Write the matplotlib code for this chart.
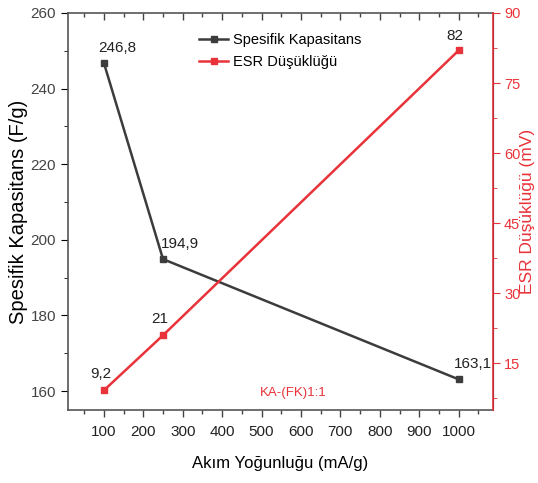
import matplotlib.pyplot as plt
from matplotlib.ticker import MultipleLocator

plt.rcParams["font.family"] = ["Liberation Sans", "DejaVu Sans"]

current = [100, 250, 1000]
capacitance = [246.8, 194.9, 163.1]
esr_drop = [9.2, 21, 82]
cap_labels = ["246,8", "194,9", "163,1"]
esr_labels = ["9,2", "21", "82"]

grey = "#3c3c3c"
red = "#e8333a"
tick_grey = "#444444"

fig = plt.figure(figsize=(5.38, 4.83), dpi=100)
ax = fig.add_axes([68 / 538, 1 - 410 / 483, 425 / 538, 397 / 483])
ax2 = ax.twinx()

l1, = ax.plot(current, capacitance, color=grey, lw=1.8, marker="s", ms=5,
              label="Spesifik Kapasitans")
l2, = ax2.plot(current, esr_drop, color=red, lw=1.8, marker="s", ms=5,
               label="ESR Düşüklüğü")

ax.set_xlim(9, 1087)
ax.set_ylim(155, 260)
ax2.set_ylim(5, 90)

ax.xaxis.set_major_locator(MultipleLocator(100))
ax.xaxis.set_minor_locator(MultipleLocator(50))
ax.yaxis.set_major_locator(MultipleLocator(20))
ax.yaxis.set_minor_locator(MultipleLocator(10))
ax2.yaxis.set_major_locator(MultipleLocator(15))
ax2.yaxis.set_minor_locator(MultipleLocator(7.5))

ax.tick_params(axis="x", which="both", direction="out", top=True, labelsize=11,
               colors=tick_grey, labelcolor="#222222", pad=6)
ax.tick_params(axis="x", which="major", length=5, width=1)
ax.tick_params(axis="x", which="minor", length=3, width=1)
ax.tick_params(axis="y", which="major", direction="out", length=5, labelsize=11,
               labelcolor=tick_grey)
ax.tick_params(axis="y", which="minor", direction="out", length=3)
ax2.tick_params(axis="y", which="major", direction="out", length=5, labelsize=10.5,
                colors=red, labelcolor=red, pad=3)
ax2.tick_params(axis="y", which="minor", direction="out", length=3, colors=red)
ax.tick_params(axis="x", which="both", top=True, labeltop=False)
# top ticks point inward
for t in ax.xaxis.get_major_ticks() + ax.xaxis.get_minor_ticks():
    t.tick2line.set_marker(3)

for s in ["left", "bottom", "top"]:
    ax.spines[s].set_color("#555555")
    ax.spines[s].set_linewidth(1.2)
ax2.spines["right"].set_color(red)
ax2.spines["right"].set_linewidth(1.2)
for s in ["left", "bottom", "top"]:
    ax2.spines[s].set_visible(False)

ax.set_xlabel("Akım Yoğunluğu (mA/g)", fontsize=12)
ax.xaxis.set_label_coords(0.5, -0.115)
ax.set_ylabel("Spesifik Kapasitans (F/g)", fontsize=14.5)
ax.yaxis.set_label_coords(-0.094, 0.5)
ax2.set_ylabel("ESR Düşüklüğü (mV)", fontsize=12.5, color=red)
ax2.yaxis.set_label_coords(1.064, 0.5)

cap_offsets = [(10, 6), (12, 6), (10, 6)]
for x, y, txt, off in zip(current, capacitance, cap_labels, cap_offsets):
    ax.annotate(txt, (x, y), xytext=off, textcoords="offset points",
                ha="center", va="bottom", fontsize=11, color="#222222")
esr_offsets = [(-2, 7), (-2, 7), (-3, 5)]
for x, y, txt, off in zip(current, esr_drop, esr_labels, esr_offsets):
    ax2.annotate(txt, (x, y), xytext=off, textcoords="offset points",
                 ha="center", va="bottom", fontsize=11, color="#222222")

ax.text(496, 159.5, "KA-(FK)1:1", color=red, fontsize=9.5, va="center", ha="left")

ax.legend(handles=[l1, l2], loc="upper left", bbox_to_anchor=(0.285, 0.975),
          frameon=False, fontsize=10.5, handlelength=2.0, borderpad=0.2,
          labelspacing=0.55, handletextpad=0.3)

fig.savefig("out.png", dpi=100)
